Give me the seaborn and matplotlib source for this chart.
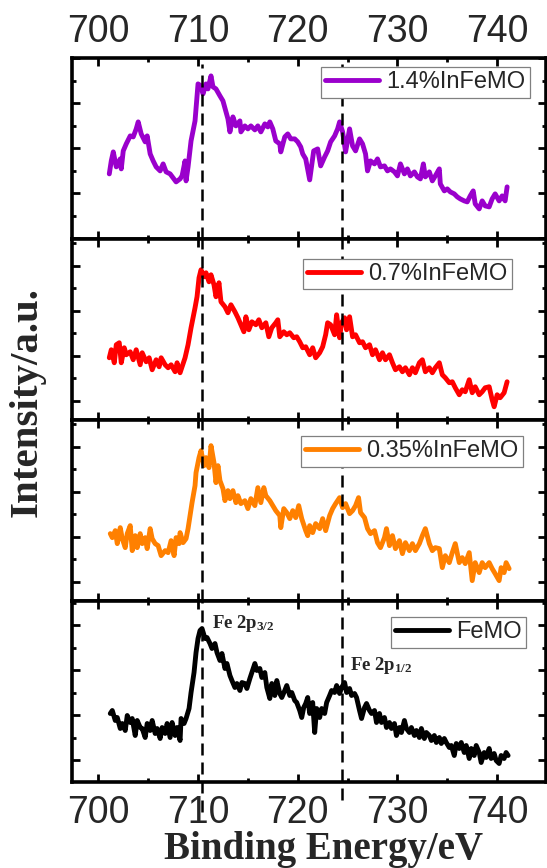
import matplotlib
matplotlib.use("Agg")
import matplotlib.pyplot as plt
import seaborn as sns
import pandas as pd
from matplotlib.ticker import MultipleLocator

# ---------------- data ----------------
labels = ["1.4%InFeMO", "0.7%InFeMO", "0.35%InFeMO", "FeMO"]
colors = ["#9A00CC", "#FF0000", "#FF8000", "#000000"]

e_14 = [701.1, 701.3, 701.5, 701.8, 702.2, 702.3, 702.5, 702.8, 703.2, 703.5, 703.8, 704.0, 704.3, 704.7,
        704.9, 705.2, 705.5, 705.8, 706.2, 706.5, 706.8, 707.2, 707.5, 707.8, 708.2, 708.4, 708.7, 708.8,
        709.0, 709.3, 709.7, 709.9, 710.0, 710.3, 710.5, 710.8, 711.0, 711.3, 711.5, 711.8, 712.2, 712.5,
        712.8, 713.0, 713.2, 713.5, 713.8, 714.2, 714.3, 714.7, 715.0, 715.3, 715.7, 716.0, 716.3, 716.7,
        717.0, 717.2, 717.5, 717.8, 718.2, 718.3, 718.7, 719.0, 719.3, 719.7, 720.0, 720.3, 720.5, 720.8,
        721.2, 721.6, 722.0, 722.3, 722.7, 723.0, 723.3, 723.7, 724.0, 724.2, 724.5, 724.8, 725.2, 725.5,
        725.8, 726.2, 726.5, 726.8, 727.0, 727.3, 727.7, 728.0, 728.3, 728.7, 729.0, 729.3, 729.7, 730.0,
        730.3, 730.7, 731.0, 731.3, 731.7, 732.0, 732.3, 732.6, 732.8, 733.2, 733.5, 733.8, 734.2, 734.3,
        734.7, 735.0, 735.3, 735.7, 736.0, 736.3, 736.7, 737.0, 737.3, 737.6, 737.8, 738.2, 738.5, 738.8,
        739.2, 739.5, 739.8, 740.2, 740.5, 740.8, 741.0]
i_14 = [65, 78, 87, 72, 80, 70, 88, 95, 103, 102, 110, 117, 105, 97,
        103, 85, 78, 72, 68, 75, 67, 65, 61, 57, 60, 63, 78, 58,
        72, 98, 118, 142, 155, 153, 145, 155, 150, 163, 152, 150, 143, 138,
        127, 120, 107, 122, 113, 118, 107, 113, 110, 113, 109, 113, 107, 115,
        112, 117, 110, 98, 95, 87, 102, 105, 100, 100, 97, 92, 85, 80,
        59, 88, 90, 73, 82, 88, 97, 103, 110, 117, 107, 87, 110, 93,
        88, 100, 95, 85, 68, 78, 75, 80, 72, 73, 68, 70, 67, 63,
        75, 65, 70, 63, 67, 62, 60, 75, 62, 67, 58, 63, 70, 55,
        48, 50, 47, 45, 42, 40, 38, 37, 43, 48, 35, 30, 38, 33,
        32, 40, 45, 38, 43, 38, 52]

e_07 = [701.1, 701.3, 701.6, 701.8, 702.1, 702.3, 702.6, 702.8, 703.2, 703.5, 703.8, 704.2, 704.4, 704.8,
        705.1, 705.4, 705.8, 706.1, 706.3, 706.7, 707.0, 707.3, 707.7, 707.9, 708.2, 708.4, 708.7, 709.0,
        709.3, 709.7, 709.9, 710.1, 710.3, 710.6, 710.8, 711.1, 711.3, 711.6, 711.8, 712.1, 712.3, 712.7,
        713.0, 713.3, 713.7, 714.0, 714.3, 714.6, 714.8, 715.1, 715.4, 715.8, 716.1, 716.4, 716.8, 717.1,
        717.4, 717.8, 718.0, 718.2, 718.6, 718.9, 719.2, 719.6, 719.9, 720.2, 720.5, 720.8, 721.2, 721.5,
        721.8, 722.2, 722.5, 722.8, 723.0, 723.3, 723.7, 723.9, 724.2, 724.4, 724.7, 724.9, 725.2, 725.5,
        725.8, 726.2, 726.5, 726.8, 727.2, 727.5, 727.8, 728.2, 728.5, 728.8, 729.2, 729.5, 729.8, 730.2,
        730.5, 730.8, 731.2, 731.5, 731.8, 732.2, 732.5, 732.8, 733.2, 733.5, 733.8, 734.2, 734.5, 734.8,
        735.2, 735.5, 735.8, 736.2, 736.5, 736.8, 737.2, 737.5, 737.8, 738.2, 738.5, 738.8, 739.2, 739.5,
        739.7, 740.0, 740.3, 740.7, 741.0]
i_07 = [62, 70, 57, 75, 77, 57, 72, 65, 68, 60, 70, 55, 67, 58,
        62, 50, 60, 53, 62, 55, 52, 55, 48, 57, 47, 53, 62, 75,
        92, 112, 123, 142, 150, 143, 147, 138, 145, 135, 123, 137, 118, 113,
        107, 115, 108, 102, 95, 88, 103, 90, 98, 95, 100, 92, 97, 83,
        92, 97, 100, 83, 88, 85, 87, 82, 83, 78, 72, 73, 65, 72,
        62, 67, 73, 85, 97, 95, 85, 105, 82, 97, 102, 90, 103, 83,
        85, 77, 78, 72, 75, 65, 70, 60, 67, 60, 65, 57, 50, 53,
        48, 52, 45, 52, 47, 57, 60, 48, 52, 47, 52, 57, 45, 42,
        37, 38, 32, 25, 30, 28, 40, 27, 33, 25, 28, 32, 33, 20,
        13, 25, 22, 27, 38]

e_035 = [701.2, 701.4, 701.7, 701.9, 702.2, 702.4, 702.7, 702.9, 703.2, 703.4, 703.7, 703.9, 704.2, 704.4,
         704.7, 704.9, 705.2, 705.4, 705.7, 706.0, 706.3, 706.7, 707.0, 707.3, 707.6, 707.8, 708.1, 708.2,
         708.5, 708.8, 709.0, 709.2, 709.4, 709.7, 709.8, 710.1, 710.3, 710.6, 710.8, 711.1, 711.3, 711.6,
         711.8, 712.0, 712.2, 712.5, 712.7, 713.0, 713.2, 713.5, 713.8, 714.0, 714.3, 714.7, 715.0, 715.3,
         715.7, 716.0, 716.3, 716.6, 716.8, 717.2, 717.5, 717.8, 718.2, 718.3, 718.6, 718.9, 719.2, 719.5,
         719.8, 720.1, 720.4, 720.8, 721.0, 721.2, 721.5, 721.8, 722.2, 722.5, 722.8, 723.2, 723.5, 723.8,
         724.2, 724.5, 724.8, 725.2, 725.5, 725.8, 726.1, 726.3, 726.7, 727.0, 727.3, 727.7, 728.0, 728.3,
         728.7, 728.9, 729.2, 729.5, 729.8, 730.2, 730.5, 730.8, 731.2, 731.5, 731.8, 732.2, 732.5, 732.8,
         733.2, 733.5, 733.8, 734.2, 734.5, 734.8, 735.2, 735.5, 735.8, 736.2, 736.5, 736.8, 737.2, 737.5,
         737.8, 738.2, 738.5, 738.8, 739.2, 739.5, 739.8, 740.2, 740.4, 740.7, 740.9, 741.2]
i_035 = [67, 63, 70, 57, 73, 62, 53, 67, 75, 50, 65, 53, 67, 57,
         63, 52, 72, 62, 57, 55, 45, 50, 48, 60, 45, 63, 57, 68,
         58, 62, 72, 85, 98, 115, 128, 143, 150, 135, 143, 133, 155, 138,
         118, 135, 120, 112, 100, 110, 102, 110, 98, 105, 97, 100, 92, 102,
         95, 113, 98, 113, 105, 100, 95, 90, 85, 73, 92, 88, 82, 90,
         83, 95, 82, 70, 65, 75, 68, 77, 72, 82, 70, 85, 92, 97,
         103, 93, 97, 87, 90, 95, 103, 88, 83, 72, 67, 70, 58, 53,
         63, 72, 55, 65, 52, 60, 47, 58, 50, 57, 50, 57, 65, 72,
         57, 50, 53, 52, 33, 45, 38, 48, 57, 38, 43, 37, 48, 20,
         38, 28, 38, 33, 38, 32, 27, 20, 33, 28, 38, 32]

e_femo = [701.2, 701.4, 701.7, 701.9, 702.2, 702.4, 702.7, 702.9, 703.2, 703.4, 703.7, 703.9, 704.2, 704.4,
          704.7, 704.9, 705.2, 705.4, 705.7, 705.9, 706.2, 706.4, 706.7, 706.9, 707.2, 707.4, 707.7, 707.9,
          708.2, 708.3, 708.6, 708.8, 709.1, 709.3, 709.6, 709.8, 710.0, 710.2, 710.4, 710.7, 710.9, 711.2,
          711.4, 711.7, 711.9, 712.2, 712.4, 712.7, 712.9, 713.2, 713.4, 713.7, 713.9, 714.2, 714.4, 714.7,
          714.9, 715.2, 715.4, 715.7, 715.9, 716.2, 716.4, 716.7, 716.9, 717.2, 717.4, 717.7, 717.9, 718.2,
          718.4, 718.7, 718.9, 719.2, 719.4, 719.7, 719.9, 720.2, 720.4, 720.6, 720.8, 721.0, 721.2, 721.5,
          721.7, 721.9, 722.2, 722.4, 722.7, 722.9, 723.2, 723.4, 723.7, 723.9, 724.2, 724.4, 724.7, 724.9,
          725.2, 725.4, 725.7, 725.9, 726.2, 726.4, 726.7, 726.9, 727.2, 727.4, 727.7, 727.9, 728.2, 728.4,
          728.7, 728.9, 729.2, 729.4, 729.7, 729.9, 730.2, 730.4, 730.7, 730.9, 731.2, 731.4, 731.7, 731.9,
          732.2, 732.4, 732.7, 732.9, 733.2, 733.4, 733.7, 733.9, 734.2, 734.4, 734.7, 734.9, 735.2, 735.4,
          735.7, 735.9, 736.2, 736.4, 736.7, 736.9, 737.2, 737.4, 737.7, 737.9, 738.2, 738.4, 738.7, 738.9,
          739.2, 739.4, 739.7, 739.9, 740.2, 740.4, 740.7, 740.9, 741.1]
i_femo = [68, 71, 61, 64, 53, 58, 51, 66, 59, 63, 46, 61, 54, 53,
          44, 58, 51, 61, 48, 53, 43, 54, 48, 58, 44, 59, 46, 54,
          41, 63, 58, 63, 73, 89, 109, 129, 143, 151, 153, 143, 144, 138,
          133, 138, 129, 121, 128, 113, 118, 106, 101, 94, 98, 91, 99, 98,
          93, 103, 109, 118, 111, 113, 104, 109, 94, 83, 98, 86, 101, 88,
          84, 91, 96, 86, 89, 81, 79, 71, 64, 74, 78, 84, 68, 79,
          49, 73, 64, 73, 68, 79, 86, 91, 89, 96, 88, 94, 99, 89,
          93, 86, 88, 84, 71, 63, 74, 78, 71, 68, 71, 59, 68, 59,
          64, 54, 59, 53, 58, 46, 54, 49, 61, 53, 49, 54, 46, 51,
          44, 53, 43, 49, 46, 41, 46, 39, 44, 38, 43, 39, 34, 36,
          26, 38, 33, 39, 29, 36, 23, 33, 26, 36, 29, 19, 29, 24,
          33, 23, 28, 21, 18, 26, 23, 29, 26]

energies = [e_14, e_07, e_035, e_femo]
intensities = [i_14, i_07, i_035, i_femo]

peak_energy = [710.4, 724.4]                      # dashed reference lines
peak_names = [r"Fe 2p$_{3/2}$", r"Fe 2p$_{1/2}$"]
label_energy = [711.4, 725.2]
label_intensity = [154, 112]

xticks = [700, 710, 720, 730, 740]

# ---------------- style ----------------
sns.set_style("ticks")
plt.rcParams["font.family"] = ["Liberation Sans", "DejaVu Sans"]
plt.rcParams["mathtext.fontset"] = "custom"
plt.rcParams["mathtext.rm"] = "Liberation Serif:bold"
plt.rcParams["mathtext.it"] = "Liberation Serif:bold"
plt.rcParams["mathtext.bf"] = "Liberation Serif:bold"

W, H = 547, 868
fig = plt.figure(figsize=(W / 100, H / 100), dpi=100)
gs = fig.add_gridspec(4, 1, left=72 / W, right=546 / W, top=1 - 58 / H,
                      bottom=1 - 781.5 / H, hspace=0)

legend_anchor = [(0.966, 0.950), (0.928, 0.889), (0.951, 0.910), (0.958, 0.909)]
ytick_offset = [0.6, 19, 19, 21.5]
dash_ymax = [0.965, 1, 1, 1]
dash_ymin_bottom = [-0.17, -0.10]

axes = []
for k in range(4):
    ax = fig.add_subplot(gs[k])
    axes.append(ax)
    df = pd.DataFrame({"Binding Energy": energies[k], "Intensity": intensities[k]})
    sns.lineplot(data=df, x="Binding Energy", y="Intensity", ax=ax, color=colors[k],
                 linewidth=3.5, label=labels[k], sort=False, estimator=None, zorder=2)
    ax.set_xlim(697.36, 744.9)
    ax.set_ylim(0, 180.9)
    ax.set_xlabel("")
    ax.set_ylabel("")
    ax.xaxis.set_major_locator(MultipleLocator(10))
    ax.xaxis.set_minor_locator(MultipleLocator(5))
    ax.yaxis.set_major_locator(MultipleLocator(45, offset=ytick_offset[k]))
    ax.yaxis.set_minor_locator(MultipleLocator(22.5, offset=ytick_offset[k]))
    ax.tick_params(which="both", direction="in", top=True, bottom=True, left=True, right=True,
                   width=2.0, color="black", labelleft=False, labelbottom=False, labelsize=27)
    ax.tick_params(which="major", length=6)
    ax.tick_params(which="minor", length=3)
    for sp in ax.spines.values():
        sp.set_linewidth(2.6)
        sp.set_color("black")
    for j, pe in enumerate(peak_energy):
        ymin = dash_ymin_bottom[j] if k == 3 else 0
        ax.axvline(pe, ymin=ymin, ymax=dash_ymax[k], color="black", linewidth=1.8,
                   linestyle=(0, (4.8, 2.8)), zorder=3, clip_on=(k != 3))
    leg = ax.legend(loc="upper right", bbox_to_anchor=legend_anchor[k], borderaxespad=0,
                    fontsize=17, handlelength=2.3, handletextpad=0.3, borderpad=0.18,
                    fancybox=False, framealpha=1, edgecolor="#808080")
    leg.get_frame().set_linewidth(0.9)
    for line in leg.get_lines():
        line.set_linewidth(3.5)
    ax.set_xticks(xticks)

axes[0].tick_params(labeltop=True, pad=6)
axes[3].tick_params(labelbottom=True, pad=10)

for j in range(2):
    axes[3].text(label_energy[j], label_intensity[j], peak_names[j], ha="left", va="baseline",
                 fontsize=13.5, family=["Liberation Serif"], weight="bold")

fig.text(324 / W, 1 - 850 / H, "Binding Energy/eV", ha="center", va="center",
         fontsize=28, family=["Liberation Serif"], weight="bold")
fig.text(27 / W, 1 - 402 / H, "Intensity/a.u.", ha="center", va="center", rotation=90,
         fontsize=29.5, family=["Liberation Serif"], weight="bold")

fig.savefig("out.png", dpi=100)
